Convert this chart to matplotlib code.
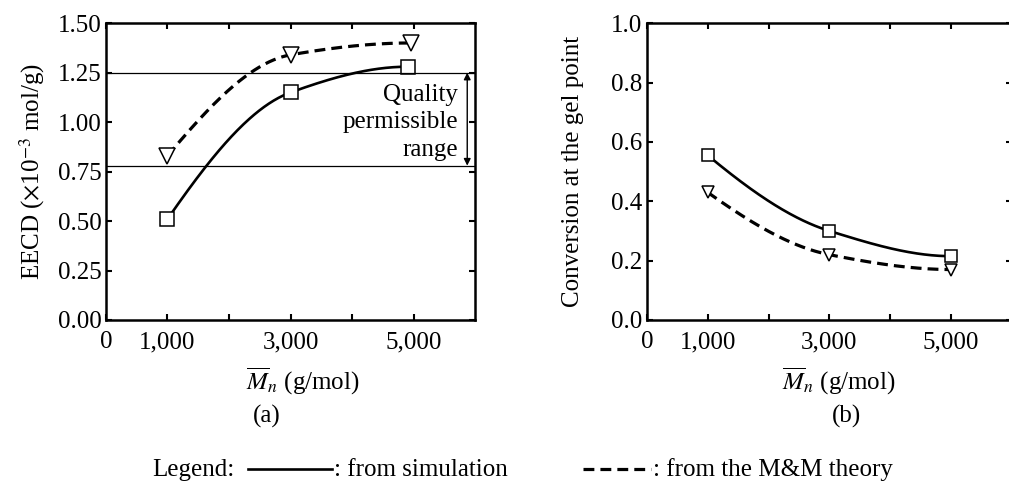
import matplotlib
matplotlib.use("Agg")
import matplotlib.pyplot as plt
import numpy as np
from matplotlib.lines import Line2D

plt.rcParams['font.family'] = ['Liberation Serif', 'DejaVu Serif']
plt.rcParams['mathtext.fontset'] = 'stix'

# panel (a): EECD vs Mn
mn_sim_a = [1000, 3000, 4900]
eecd_sim = [0.51, 1.15, 1.28]
mn_mm_a = [1000, 3000, 4950]
eecd_mm = [0.83, 1.34, 1.40]
quality_upper = 1.25
quality_lower = 0.78

# panel (b): conversion at gel point vs Mn
mn_b = [1000, 3000, 5000]
conv_sim = [0.555, 0.30, 0.215]
conv_mm = [0.43, 0.22, 0.17]

xticks = [1000, 2000, 3000, 4000, 5000]
xticklabels = ['1,000', '', '3,000', '', '5,000']

FS = 18
DASH = (0, (3.4, 1.9))


def smooth(x, y, n=200):
    # monotone cubic (pchip) curve through the points, like the hand-drawn curves
    x = np.asarray(x, float) / 1000.0
    y = np.asarray(y, float)
    h = np.diff(x)
    dl = np.diff(y) / h
    d = np.zeros_like(y)
    for k in range(1, len(x) - 1):
        if dl[k - 1] * dl[k] > 0:
            w1 = 2 * h[k] + h[k - 1]
            w2 = h[k] + 2 * h[k - 1]
            d[k] = (w1 + w2) / (w1 / dl[k - 1] + w2 / dl[k])

    def end(h0, h1, d0, d1):
        v = ((2 * h0 + h1) * d0 - h0 * d1) / (h0 + h1)
        if np.sign(v) != np.sign(d0):
            return 0.0
        if np.sign(d0) != np.sign(d1) and abs(v) > 3 * abs(d0):
            return 3 * d0
        return v

    d[0] = end(h[0], h[1], dl[0], dl[1])
    d[-1] = end(h[-1], h[-2], dl[-1], dl[-2])
    xs = np.linspace(x[0], x[-1], n)
    k = np.clip(np.searchsorted(x, xs) - 1, 0, len(x) - 2)
    t = (xs - x[k]) / h[k]
    ys = ((1 - 3 * t**2 + 2 * t**3) * y[k] + (t**3 - 2 * t**2 + t) * h[k] * d[k]
          + (3 * t**2 - 2 * t**3) * y[k + 1] + (t**3 - t**2) * h[k] * d[k + 1])
    return xs * 1000.0, ys


def style_axes(ax):
    for s in ax.spines.values():
        s.set_linewidth(1.8)
    ax.tick_params(direction='in', top=True, right=True, length=4, width=1.5,
                   labelsize=FS)
    ax.tick_params(axis='x', pad=8)
    ax.tick_params(axis='y', pad=3)
    ax.set_xlim(0, 6000)
    ax.set_xticks([0] + xticks)
    ax.set_xticklabels(['0'] + xticklabels)


fig = plt.figure(figsize=(10.09, 4.83), dpi=100)
ax1 = fig.add_axes([0.105, 0.3375, 0.366, 0.6145])
ax2 = fig.add_axes([0.641, 0.3375, 0.362, 0.6145])

# (a)
xs, ys = smooth(mn_sim_a, eecd_sim)
ax1.plot(xs, ys, color='black', lw=1.9)
xs, ys = smooth(mn_mm_a, eecd_mm)
ax1.plot(xs, ys, color='black', lw=2.3, ls=DASH)
ax1.plot(mn_sim_a, eecd_sim, 's', ms=10, mfc='white', mec='black', mew=1.1, ls='none')
ax1.plot(mn_mm_a, eecd_mm, 'v', ms=11, mfc='white', mec='black', mew=1.1, ls='none')
ax1.axhline(quality_upper, color='black', lw=0.9)
ax1.axhline(quality_lower, color='black', lw=0.9)
ax1.annotate('', xy=(5870, quality_upper), xytext=(5870, quality_lower),
             arrowprops=dict(arrowstyle='<|-|>', color='black', lw=1.0,
                             mutation_scale=10, shrinkA=0, shrinkB=0))
ax1.text(5720, 1.0, 'Quality\npermissible\nrange',
         ha='right', va='center', fontsize=FS, linespacing=1.32)
ax1.set_ylim(0, 1.5)
ax1.set_yticks(np.arange(0, 1.51, 0.25))
ax1.set_yticklabels([f'{v:.2f}' for v in np.arange(0, 1.51, 0.25)])
ax1.set_ylabel(r'EECD ($\times$10$^{-3}$ mol/g)', fontsize=FS, labelpad=8)
ax1.set_xlabel(r'$\overline{M}_n$ (g/mol)', fontsize=FS, labelpad=9, x=0.533)
style_axes(ax1)

# (b)
xs, ys = smooth(mn_b, conv_sim)
ax2.plot(xs, ys, color='black', lw=1.9)
xs, ys = smooth(mn_b, conv_mm)
ax2.plot(xs, ys, color='black', lw=2.3, ls=DASH)
ax2.plot(mn_b, conv_sim, 's', ms=8, mfc='white', mec='black', mew=1.1, ls='none')
ax2.plot(mn_b, conv_mm, 'v', ms=9, mfc='white', mec='black', mew=1.1, ls='none')
ax2.set_ylim(0, 1.0)
ax2.set_yticks(np.arange(0, 1.01, 0.2))
ax2.set_yticklabels([f'{v:.1f}' for v in np.arange(0, 1.01, 0.2)])
ax2.set_ylabel('Conversion at the gel point', fontsize=FS, labelpad=20)
ax2.set_xlabel(r'$\overline{M}_n$ (g/mol)', fontsize=FS, labelpad=9, x=0.525)
style_axes(ax2)

fig.text(0.264, 0.137, '(a)', ha='center', va='center', fontsize=FS)
fig.text(0.839, 0.137, '(b)', ha='center', va='center', fontsize=FS)

# legend row
fig.text(0.151, 0.027, 'Legend:', ha='left', va='center', fontsize=FS)
fig.add_artist(Line2D([0.246, 0.329], [0.03, 0.03], color='black', lw=1.9))
fig.text(0.331, 0.027, ': from simulation', ha='left', va='center', fontsize=FS)
fig.add_artist(Line2D([0.578, 0.645], [0.03, 0.03], color='black', lw=2.3, ls=DASH))
fig.text(0.647, 0.027, ': from the M&M theory', ha='left', va='center', fontsize=FS)

fig.savefig('out.png', dpi=100)
